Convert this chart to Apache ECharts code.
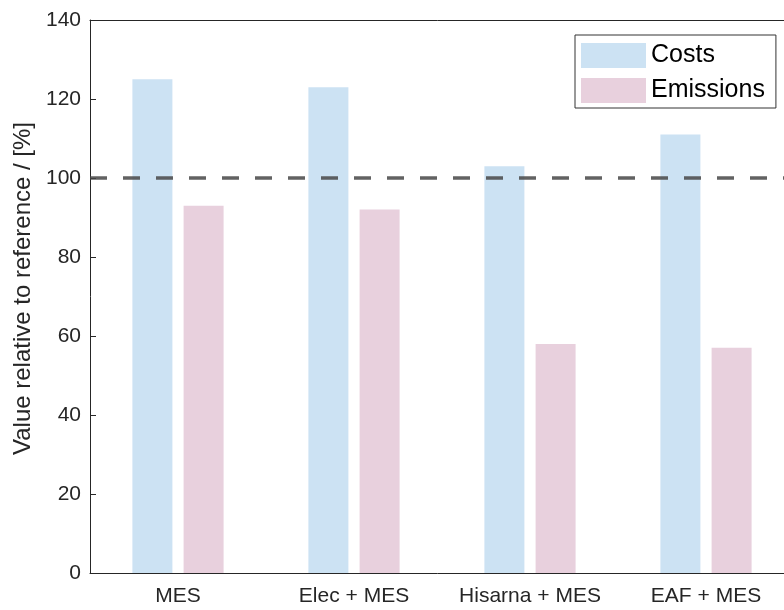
<!DOCTYPE html>
<html>
<head>
<meta charset="utf-8">
<script src="https://cdn.jsdelivr.net/npm/echarts@6/dist/echarts.min.js"></script>
<style>html,body{margin:0;padding:0;background:#fff;}#c{width:784px;height:610px;}</style>
</head>
<body>
<div id="c"></div>
<script>
var categories = ['MES', 'Elec + MES', 'Hisarna + MES', 'EAF + MES'];
var costs = [125, 123, 103, 111];
var emissions = [93, 92, 58, 57];
var referenceLevel = 100;
var yTicks = [0, 20, 40, 60, 80, 100, 120, 140];

var FONT = '"Liberation Sans", Arial, sans-serif';
var chart = echarts.init(document.getElementById('c'), null, {renderer: 'canvas'});
chart.setOption({
  animation: false,
  backgroundColor: '#fff',
  grid: {left: 90, top: 20, width: 704, height: 553, containLabel: false, outerBoundsMode: 'none'},
  legend: {
    orient: 'vertical', left: 575, top: 35,
    padding: [8, 11, 5, 6],
    itemWidth: 65, itemHeight: 25, itemGap: 10,
    icon: 'rect',
    borderColor: '#333', borderWidth: 1, backgroundColor: '#fff',
    textStyle: {fontFamily: FONT, fontSize: 25, color: '#000', padding: [0, 0, 0, 0]},
    data: ['Costs', 'Emissions']
  },
  xAxis: [{
    type: 'category', data: categories, position: 'bottom',
    axisLine: {lineStyle: {color: '#262626', width: 1}},
    axisTick: {inside: true, alignWithLabel: true, length: 6, lineStyle: {color: '#262626'}},
    axisLabel: {interval: 0, hideOverlap: false, fontFamily: FONT, fontSize: 21, color: '#262626', margin: 13},
    splitLine: {show: false}
  }, {
    type: 'category', data: categories, position: 'top',
    axisLine: {lineStyle: {color: '#262626', width: 1}},
    axisTick: {inside: true, alignWithLabel: true, length: 6, lineStyle: {color: '#262626'}},
    axisLabel: {show: false}
  }],
  yAxis: {
    type: 'value', position: 'left', min: yTicks[0], max: yTicks[yTicks.length - 1], interval: 20,
    name: 'Value relative to reference / [%]',
    nameLocation: 'middle', nameGap: 55, nameRotate: 90,
    nameTextStyle: {fontFamily: FONT, fontSize: 24, color: '#262626', padding: [0, 0, 0, 16]},
    axisLine: {show: true, lineStyle: {color: '#262626', width: 1}},
    axisTick: {show: true, inside: true, length: 6, lineStyle: {color: '#262626'}},
    axisLabel: {fontFamily: FONT, fontSize: 21, color: '#262626', margin: 9},
    splitLine: {show: false}
  },
  series: [{
    name: 'Costs', type: 'bar', data: costs, barWidth: 40, barGap: '28%',
    itemStyle: {color: '#cce2f3'},
    markLine: {
      silent: true, symbol: ['none', 'none'], label: {show: false},
      lineStyle: {color: 'rgba(70,70,70,0.85)', width: 3.5, type: [17, 16]},
      data: [{yAxis: referenceLevel}],
      z: 10
    }
  }, {
    name: 'Emissions', type: 'bar', data: emissions, barWidth: 40,
    itemStyle: {color: '#e8d0dd'}
  }]
});
</script>
</body>
</html>
